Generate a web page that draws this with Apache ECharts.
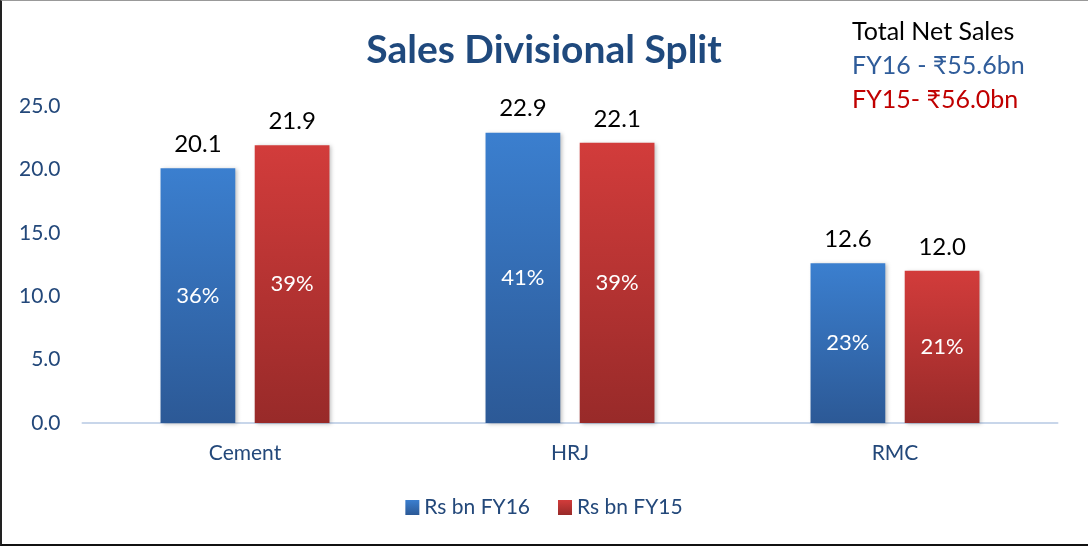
<!DOCTYPE html>
<html>
<head>
<meta charset="utf-8">
<script src="https://cdn.jsdelivr.net/npm/echarts@6/dist/echarts.min.js"></script>
<style>
  html, body { margin: 0; padding: 0; background: #fff; }
  #wrap { position: relative; width: 1088px; height: 546px; }
  #chart { position: absolute; left: 0; top: 0; width: 1088px; height: 546px; }
  #frame {
    position: absolute; left: 0; top: 0; width: 1088px; height: 546px;
    box-sizing: border-box; pointer-events: none;
    border-left: 2px solid #222; border-top: 1px solid #999; border-bottom: 2px solid #111;
  }
</style>
</head>
<body>
<div id="wrap">
  <div id="chart"></div>
  <div id="frame"></div>
</div>
<script>
// data
const categories = ['Cement', 'HRJ', 'RMC'];
const salesFY16 = [20.1, 22.9, 12.6];
const salesFY15 = [21.9, 22.1, 12.0];
const shareFY16 = ['36%', '41%', '23%'];
const shareFY15 = ['39%', '39%', '21%'];
const seriesNames = ['Rs bn FY16', 'Rs bn FY15'];

const FONT = "Lato, 'Noto Sans', sans-serif";
const AXIS_BLUE = '#23487a';

const blueFill = new echarts.graphic.LinearGradient(0, 0, 0, 1, [
  { offset: 0, color: '#3b7fcf' },
  { offset: 1, color: '#2c5996' }
]);
const redFill = new echarts.graphic.LinearGradient(0, 0, 0, 1, [
  { offset: 0, color: '#d23c3b' },
  { offset: 1, color: '#982a29' }
]);

const chart = echarts.init(document.getElementById('chart'));

// shared bar layout so the overlay bars sit exactly on the real ones
const barLayout = { barWidth: '23%', barGap: '26%' };

function valueSeries(name, data, fill) {
  return Object.assign({
    name: name,
    type: 'bar',
    xAxisIndex: 0,
    data: data,
    itemStyle: {
      color: fill,
      shadowBlur: 4,
      shadowOffsetX: 2,
      shadowOffsetY: 1,
      shadowColor: 'rgba(0,0,0,0.25)'
    },
    label: {
      show: true,
      position: 'top',
      distance: 12,
      color: '#000',
      fontFamily: FONT,
      fontSize: 24,
      formatter: p => p.value.toFixed(1)
    }
  }, barLayout);
}

function shareSeries(name, data, shares) {
  return Object.assign({
    name: name,
    type: 'bar',
    xAxisIndex: 1,
    silent: true,
    data: data,
    itemStyle: { color: 'rgba(0,0,0,0)' },
    label: {
      show: true,
      position: 'inside',
      color: '#fff',
      fontFamily: FONT,
      fontSize: 22,
      formatter: p => shares[p.dataIndex]
    }
  }, barLayout);
}

const option = {
  animation: false,
  backgroundColor: '#fff',
  title: [
    {
      text: 'Sales Divisional Split',
      left: 'center',
      top: 31,
      padding: 0,
      textStyle: { fontFamily: FONT, fontSize: 39, fontWeight: 'bold', color: '#1f497d' }
    },
    {
      text: 'Total Net Sales\n{b|FY16 - ₹55.6bn}\n{r|FY15- ₹56.0bn}',
      left: 852,
      top: 15,
      padding: 0,
      textStyle: {
        fontFamily: FONT, fontSize: 25, fontWeight: 'normal', color: '#000', lineHeight: 34,
        rich: {
          b: { fontFamily: FONT, fontSize: 25, color: '#2f5c9a', lineHeight: 34 },
          r: { fontFamily: FONT, fontSize: 25, color: '#c00000', lineHeight: 34 }
        }
      }
    }
  ],
  legend: {
    data: seriesNames,
    bottom: 23,
    left: 'center',
    icon: 'rect',
    itemWidth: 14,
    itemHeight: 15,
    itemGap: 28,
    textStyle: { fontFamily: FONT, fontSize: 21, color: AXIS_BLUE }
  },
  grid: { left: 82.5, right: 30.5, top: 106, bottom: 123 },
  xAxis: [
    {
      type: 'category',
      data: categories,
      axisTick: { show: false },
      axisLine: { lineStyle: { color: '#c8d6ea', width: 2 } },
      axisLabel: { margin: 20, fontFamily: FONT, fontSize: 21, color: AXIS_BLUE }
    },
    {
      type: 'category',
      data: categories,
      show: false,
      position: 'bottom'
    }
  ],
  yAxis: {
    type: 'value',
    min: 0,
    max: 25,
    interval: 5,
    splitLine: { show: false },
    axisLine: { show: false },
    axisTick: { show: false },
    axisLabel: {
      margin: 22,
      fontFamily: FONT,
      fontSize: 21,
      color: AXIS_BLUE,
      formatter: v => v.toFixed(1)
    }
  },
  series: [
    valueSeries(seriesNames[0], salesFY16, blueFill),
    valueSeries(seriesNames[1], salesFY15, redFill),
    shareSeries('share FY16', salesFY16, shareFY16),
    shareSeries('share FY15', salesFY15, shareFY15)
  ]
};

chart.setOption(option);
</script>
</body>
</html>
